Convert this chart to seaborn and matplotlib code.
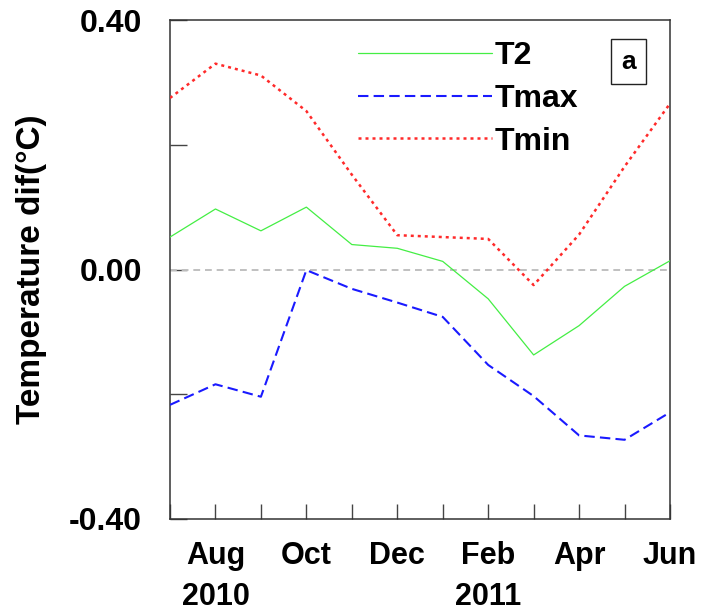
import matplotlib
matplotlib.use("Agg")
import matplotlib.pyplot as plt
from matplotlib.ticker import MultipleLocator
import pandas as pd
import seaborn as sns

# Monthly mean temperature differences, Jul 2010 - Jun 2011
months = ["Jul", "Aug", "Sep", "Oct", "Nov", "Dec",
          "Jan", "Feb", "Mar", "Apr", "May", "Jun"]
tick_labels = ["", "Aug\n2010", "", "Oct", "", "Dec",
               "", "Feb\n2011", "", "Apr", "", "Jun"]
t2 = [0.052, 0.097, 0.062, 0.100, 0.040, 0.034,
      0.013, -0.047, -0.137, -0.090, -0.027, 0.014]
tmax = [-0.217, -0.184, -0.204, -0.001, -0.031, -0.053,
        -0.076, -0.153, -0.203, -0.266, -0.273, -0.229]
tmin = [0.275, 0.330, 0.311, 0.254, 0.152, 0.055,
        0.052, 0.049, -0.025, 0.056, 0.165, 0.266]

sns.set_theme(style="white")
plt.rcParams["font.family"] = ["Liberation Sans", "DejaVu Sans"]
plt.rcParams["font.weight"] = "bold"
plt.rcParams["text.color"] = "black"
plt.rcParams["xtick.labelcolor"] = "black"
plt.rcParams["ytick.labelcolor"] = "black"
plt.rcParams["axes.labelcolor"] = "black"

df = pd.DataFrame({"pos": range(len(months)), "month": months,
                   "T2": t2, "Tmax": tmax, "Tmin": tmin})

W, H = 701, 610
fig = plt.figure(figsize=(W / 100, H / 100), dpi=100)
ax = fig.add_axes([170 / W, 1 - 519 / H, 500 / W, 499 / H])

# zero reference line
ax.axhline(0, color="#c0c0c0", lw=1.4, ls=(0, (3.5, 2.5)), zorder=1)

series = [
    ("T2", "#44ee44", 0.9, "-"),
    ("Tmax", "#1a1aff", 1.5, (0, (5, 2.5))),
    ("Tmin", "#ff2a2a", 1.8, (0, (1.2, 1.6))),
]
for name, color, lw, ls in series:
    sns.lineplot(data=df, x="pos", y=name, ax=ax, color=color,
                 lw=lw, linestyle=ls, label=name, zorder=3)

ax.set_xlim(0, len(months) - 1)
ax.set_ylim(-0.40, 0.40)

ax.set_xticks(df["pos"])
ax.set_xticklabels(tick_labels, fontsize=22, fontweight="bold",
                   linespacing=1.45, va="top")
ax.tick_params(axis="x", direction="in", length=11, width=1.0,
               color="#444444", pad=16, bottom=True)

ax.yaxis.set_minor_locator(MultipleLocator(0.2))
ax.set_yticks([-0.4, 0.0, 0.4])
ax.set_yticklabels(["-0.40", "0.00", "0.40"], fontsize=23, fontweight="bold")
ax.tick_params(axis="y", which="both", direction="in", length=12,
               width=1.0, color="#444444", pad=20, left=True)

ax.set_xlabel("")
ax.set_ylabel("Temperature dif(°C)", fontsize=24, fontweight="bold")
ax.yaxis.set_label_coords(-0.245, 0.5)

for sp in ax.spines.values():
    sp.set_color("#333333")
    sp.set_linewidth(1.1)

leg = ax.legend(loc="upper left", bbox_to_anchor=(0.375, 0.958),
                frameon=False, fontsize=23, handlelength=4.2,
                handletextpad=0.1, labelspacing=0.4, borderpad=0,
                borderaxespad=0)
for t in leg.get_texts():
    t.set_fontweight("bold")

# panel tag
ax.text(0.917, 0.916, "a", transform=ax.transAxes, fontsize=19,
        fontweight="bold", ha="center", va="center",
        bbox=dict(boxstyle="square,pad=0.4", fc="white", ec="#222222",
                  lw=1.0))

fig.savefig("out.png", dpi=100)
